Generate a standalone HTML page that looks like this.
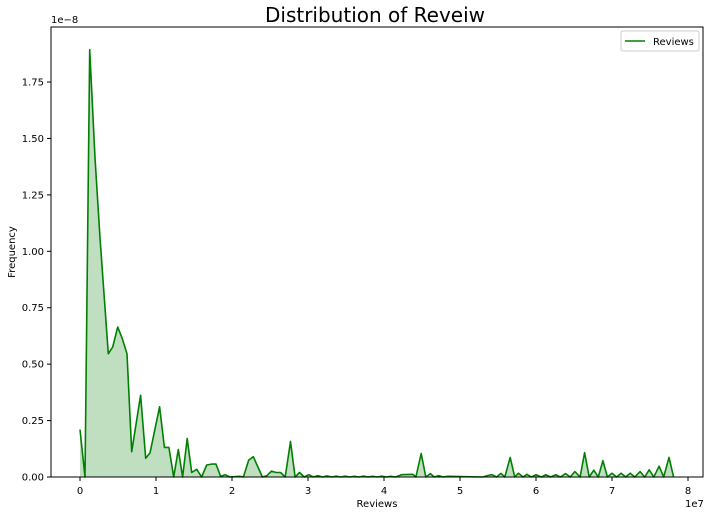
<!DOCTYPE html>
<html><head><meta charset="utf-8"><style>
body{margin:0;background:#fff;font-family:"Liberation Sans","DejaVu Sans",sans-serif}
svg text{font-family:"DejaVu Sans","Liberation Sans",sans-serif}
</style></head><body>
<svg id="c" width="714" height="515"></svg>
<script>
const xs=[0,0.066,0.127,0.197,0.263,0.373,0.43,0.496,0.557,0.618,0.68,0.798,0.864,0.921,1.048,1.11,1.17,1.233,1.294,1.35,1.41,1.47,1.535,1.6,1.667,1.73,1.79,1.85,1.91,1.97,2.1,2.15,2.22,2.28,2.4,2.46,2.52,2.58,2.64,2.7,2.77,2.83,2.89,2.95,3.01,3.07,3.13,3.19,3.25,3.31,3.37,3.43,3.49,3.55,3.61,3.67,3.73,3.79,3.85,3.91,3.97,4.03,4.09,4.15,4.23,4.38,4.42,4.49,4.55,4.61,4.66,4.72,4.78,4.84,5.3,5.36,5.42,5.48,5.54,5.59,5.66,5.72,5.77,5.83,5.88,5.94,6.0,6.07,6.13,6.19,6.26,6.32,6.39,6.45,6.51,6.58,6.64,6.7,6.76,6.82,6.88,6.94,7.0,7.06,7.12,7.18,7.24,7.3,7.37,7.43,7.49,7.55,7.62,7.68,7.75,7.81];
const ys=[0.21,0,1.893,1.415,1.06,0.546,0.576,0.664,0.613,0.546,0.112,0.362,0.083,0.107,0.311,0.131,0.131,0,0.122,0,0.17,0.02,0.034,0,0.053,0.057,0.057,0.003,0.01,0,0.003,0,0.075,0.09,0,0.006,0.026,0.02,0.02,0,0.157,0,0.02,0,0.01,0,0.006,0,0.005,0,0.004,0,0.004,0,0.003,0,0.004,0,0.003,0,0.004,0,0.003,0,0.01,0.012,0,0.104,0,0.015,0,0.006,0,0.003,0,0.006,0.01,0,0.016,0,0.087,0,0.017,0,0.012,0,0.01,0,0.01,0,0.01,0,0.015,0,0.024,0,0.108,0,0.03,0,0.072,0,0.017,0,0.017,0,0.017,0,0.024,0,0.032,0,0.048,0,0.087,0];
const xTicks=[0,1,2,3,4,5,6,7,8];
const yTicks=[0,0.25,0.5,0.75,1.0,1.25,1.5,1.75];
const L=51,R=703,T=27,B=477;
const X=v=>80+v*76;
const Y=v=>477-v*225.7;
const s=document.getElementById('c');
const NS='http://www.w3.org/2000/svg';
function mk(t,a,txt){const e=document.createElementNS(NS,t);for(const k in a)e.setAttribute(k,a[k]);if(txt!==undefined)e.textContent=txt;s.appendChild(e);return e;}
let pts=xs.map((x,i)=>X(x).toFixed(1)+','+Y(ys[i]).toFixed(1));
let area=mk('polygon',{points:X(xs[0])+','+B+' '+pts.join(' ')+' '+X(xs[xs.length-1])+','+B,fill:'#c0dfc0',stroke:'none'});


let line=mk('polyline',{points:pts.join(' '),fill:'none',stroke:'#008000','stroke-width':1.6,'stroke-linejoin':'round'});


let fr=mk('rect',{x:L,y:T,width:R-L,height:B-T,fill:'none',stroke:'#000','stroke-width':1});


xTicks.forEach(t=>{
  mk('line',{x1:X(t),x2:X(t),y1:B,y2:B+4,stroke:'#000'});
  let e=mk('text',{x:X(t),y:B+17,'font-size':10,'text-anchor':'middle'},String(t));
  
  
});
yTicks.forEach(t=>{
  mk('line',{x1:L-4,x2:L,y1:Y(t),y2:Y(t),stroke:'#000'});
  let e=mk('text',{x:L-7,y:Y(t)+3.5,'font-size':10,'text-anchor':'end'},t.toFixed(2));
  
  
});
let t1=mk('text',{x:375,y:22,'font-size':20,'text-anchor':'middle'},'Distribution of Reveiw');


let t2=mk('text',{x:377,y:507,'font-size':10,'text-anchor':'middle'},'Reviews');


let t3=mk('text',{x:15,y:252,'font-size':10,'text-anchor':'middle',transform:'rotate(-90 15 252)'},'Frequency');


let t4=mk('text',{x:51,y:23,'font-size':10},'1e\u22128');


let t5=mk('text',{x:685,y:507,'font-size':10},'1e7');


let lg=mk('rect',{x:621,y:31,width:78,height:20,rx:2,fill:'#fff',stroke:'#ccc'});


mk('line',{x1:625,x2:645,y1:41,y2:41,stroke:'#008000','stroke-width':1.6});
let lt=mk('text',{x:653,y:45,'font-size':10},'Reviews');


</script>
</body></html>
